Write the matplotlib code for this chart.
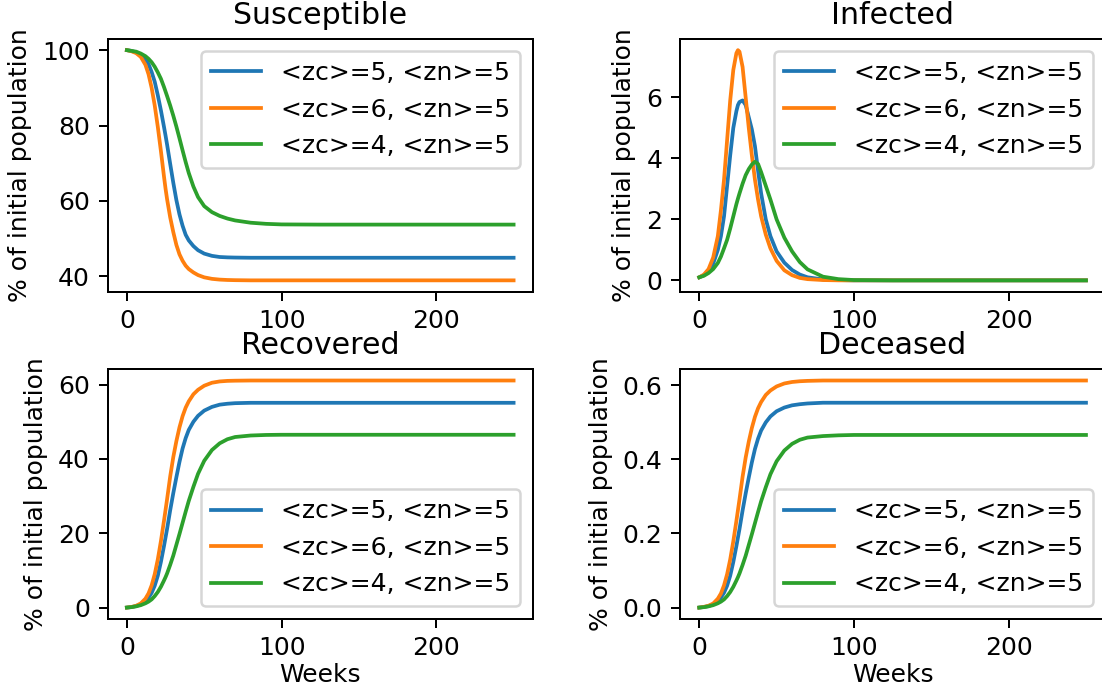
import matplotlib

matplotlib.use("Agg")
import matplotlib.pyplot as plt

# values (% of initial population per week)
weeks = [0, 3, 6, 9, 12, 14, 16, 18, 20, 22, 24, 25, 26, 28, 30, 32, 34, 36, 38, 40,
         43, 46, 50, 55, 60, 65, 70, 80, 90, 100, 125, 150, 200, 250]

labels = ["<zc>=5, <zn>=5", "<zc>=6, <zn>=5", "<zc>=4, <zn>=5"]

susceptible_zc5 = [100, 99.8, 99.4, 98.8, 97.6, 96.3, 94.2, 91.6, 88.0, 84.0, 79.6, 77.3, 74.9, 69.8,
                   64.8, 60.2, 56.4, 53.4, 51.0, 49.5, 48.0, 46.9, 46.0, 45.4, 45.1, 45.0, 44.95,
                   44.9, 44.9, 44.9, 44.9, 44.9, 44.9, 44.9]
susceptible_zc6 = [100, 99.7, 99.2, 98.2, 96.1, 93.6, 90.0, 85.3, 79.6, 73.2, 66.4, 63.2, 60.4, 55.6,
                   51.7, 48.3, 45.8, 44.1, 42.8, 41.9, 41.0, 40.3, 39.7, 39.3, 39.1, 39.0, 38.95,
                   38.9, 38.9, 38.9, 38.9, 38.9, 38.9, 38.9]
susceptible_zc4 = [100, 99.8, 99.6, 99.1, 98.4, 97.7, 96.8, 95.6, 94.1, 92.4, 90.2, 89.0, 87.8, 85.3,
                   82.6, 79.7, 76.6, 73.4, 70.3, 67.4, 63.8, 61.0, 58.6, 57.0, 56.0, 55.3, 54.8,
                   54.2, 53.9, 53.75, 53.7, 53.7, 53.7, 53.7]

infected_zc5 = [0.10, 0.17, 0.30, 0.55, 1.0, 1.45, 2.1, 3.1, 4.1, 5.0, 5.55, 5.75, 5.85, 5.9, 5.75,
                5.35, 4.95, 4.4, 3.6, 2.85, 2.0, 1.45, 0.95, 0.58, 0.34, 0.19, 0.10, 0.03, 0.01,
                0.0, 0.0, 0.0, 0.0, 0.0]
infected_zc6 = [0.10, 0.19, 0.37, 0.75, 1.45, 2.3, 3.3, 4.6, 5.9, 6.9, 7.45, 7.55, 7.5, 7.0, 6.0,
                5.0, 4.1, 3.3, 2.65, 2.1, 1.5, 1.05, 0.64, 0.33, 0.17, 0.08, 0.04, 0.01, 0.0,
                0.0, 0.0, 0.0, 0.0, 0.0]
infected_zc4 = [0.10, 0.15, 0.24, 0.37, 0.57, 0.78, 1.05, 1.33, 1.7, 2.1, 2.5, 2.68, 2.85, 3.17,
                3.45, 3.65, 3.8, 3.89, 3.82, 3.55, 3.1, 2.65, 2.0, 1.4, 0.95, 0.6, 0.36, 0.12,
                0.04, 0.01, 0.0, 0.0, 0.0, 0.0]

recovered_zc5 = [0, 0.15, 0.41, 0.88, 1.74, 2.65, 3.96, 5.9, 8.6, 12.3, 16.6, 18.9, 21.2, 26.2,
                 30.8, 35.1, 39.2, 42.8, 45.6, 47.8, 50.0, 51.6, 53.0, 54.0, 54.6, 54.85, 55.0,
                 55.1, 55.1, 55.1, 55.1, 55.1, 55.1, 55.1]
recovered_zc6 = [0, 0.17, 0.49, 1.13, 2.4, 3.83, 5.98, 9.0, 13.0, 17.9, 23.4, 26.3, 29.2, 35.3,
                 40.5, 44.8, 48.5, 51.5, 53.8, 55.5, 57.4, 58.6, 59.7, 60.5, 60.85, 61.0, 61.05,
                 61.1, 61.1, 61.1, 61.1, 61.1, 61.1, 61.1]
recovered_zc4 = [0, 0.12, 0.33, 0.65, 1.15, 1.6, 2.2, 3.1, 4.2, 5.6, 7.3, 8.2, 9.2, 11.5, 14.0,
                 16.9, 19.8, 22.8, 25.8, 28.7, 32.5, 36.0, 39.5, 42.4, 44.2, 45.3, 45.9, 46.3,
                 46.45, 46.5, 46.5, 46.5, 46.5, 46.5]

deceased_zc5 = [0, 0.0015, 0.004, 0.009, 0.017, 0.027, 0.040, 0.059, 0.086, 0.123, 0.166, 0.189,
                0.212, 0.262, 0.308, 0.351, 0.392, 0.428, 0.456, 0.478, 0.500, 0.516, 0.530,
                0.540, 0.546, 0.549, 0.551, 0.553, 0.553, 0.553, 0.553, 0.553, 0.553, 0.553]
deceased_zc6 = [0, 0.002, 0.005, 0.011, 0.024, 0.038, 0.060, 0.090, 0.130, 0.179, 0.234, 0.263,
                0.292, 0.353, 0.405, 0.448, 0.485, 0.515, 0.538, 0.555, 0.574, 0.586, 0.597,
                0.605, 0.609, 0.611, 0.612, 0.613, 0.613, 0.613, 0.613, 0.613, 0.613, 0.613]
deceased_zc4 = [0, 0.0012, 0.0033, 0.0065, 0.0115, 0.016, 0.022, 0.031, 0.042, 0.056, 0.073,
                0.082, 0.092, 0.115, 0.140, 0.169, 0.198, 0.228, 0.258, 0.287, 0.325, 0.360,
                0.395, 0.424, 0.442, 0.453, 0.459, 0.463, 0.465, 0.466, 0.466, 0.466, 0.466, 0.466]


def draw_panel(ax, title, series, legend_loc, show_xlabel=False):
    for values, label in zip(series, labels):
        ax.plot(weeks, values, label=label)
    ax.set_title(title)
    ax.set_ylabel("% of initial population")
    if show_xlabel:
        ax.set_xlabel("Weeks", labelpad=1)
    ax.legend(loc=legend_loc)


fig = plt.figure(figsize=(1102 / 180, 690 / 180), dpi=180)
# axes boxes placed to match the reference (right column is cut off at the edge)
ax_s = fig.add_axes([0.0976, 0.577, 0.386, 0.367])
ax_i = fig.add_axes([0.617, 0.577, 0.386, 0.367])
ax_r = fig.add_axes([0.0976, 0.103, 0.386, 0.362])
ax_d = fig.add_axes([0.617, 0.103, 0.386, 0.362])

draw_panel(ax_s, "Susceptible", [susceptible_zc5, susceptible_zc6, susceptible_zc4], "upper right")
draw_panel(ax_i, "Infected", [infected_zc5, infected_zc6, infected_zc4], "upper right")
draw_panel(ax_r, "Recovered", [recovered_zc5, recovered_zc6, recovered_zc4], "lower right", True)
draw_panel(ax_d, "Deceased", [deceased_zc5, deceased_zc6, deceased_zc4], "lower right", True)

fig.savefig("out.png", dpi=180)
plt.close(fig)
